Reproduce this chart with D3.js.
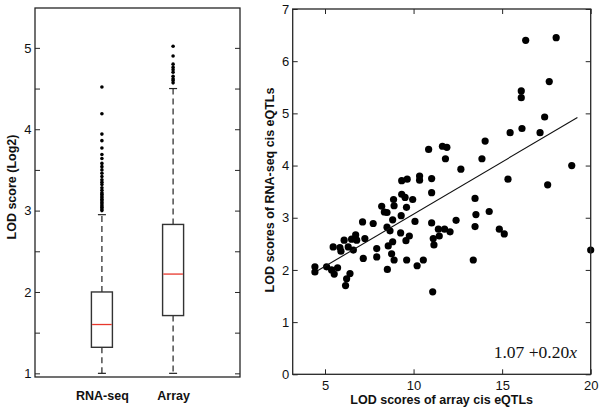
<!DOCTYPE html>
<html>
<head>
<meta charset="utf-8">
<script src="https://cdn.jsdelivr.net/npm/d3@7"></script>
<style>
  html, body { margin: 0; padding: 0; background: #fff; }
  svg { display: block; }
</style>
</head>
<body>
<svg id="chart" width="602" height="410"></svg>
<script>
// ---------- Data ----------
const boxCategories = ["RNA-seq", "Array"];
const boxWhiskerLow = [1.0, 1.0];
const boxQ1 = [1.32, 1.71];
const boxMedian = [1.60, 2.22];
const boxQ3 = [2.0, 2.83];
const boxWhiskerHigh = [2.95, 4.50];
const rnaOutliers = [3.0, 3.02, 3.04, 3.06, 3.08, 3.1, 3.12, 3.14, 3.16, 3.18, 3.2, 3.22, 3.25, 3.28,
  3.32, 3.35, 3.38, 3.42, 3.46, 3.5, 3.54, 3.58, 3.64, 3.69, 3.77, 3.86, 3.94, 4.19, 4.52];
const arrayOutliers = [4.57, 4.6, 4.62, 4.65, 4.7, 4.73, 4.76, 4.8, 4.9, 5.02];
const boxYTicks = [1, 1.5, 2, 2.5, 3, 3.5, 4, 4.5, 5];
const boxYLabels = [1, 2, 3, 4, 5];

const scatterX = [4.43, 4.43, 5.09, 5.37, 5.52, 5.71, 5.46, 5.84, 5.9, 6.08, 6.31, 6.22, 6.16, 6.41, 6.6, 6.5, 6.73, 6.79,
  7.16, 7.12, 7.25, 7.72, 7.92, 7.92,
  8.2, 8.35, 8.5, 8.5, 8.52, 8.57, 8.67, 8.76, 8.82, 8.82, 8.9, 8.87, 8.9,
  9.3, 9.27, 9.57, 9.6, 9.61, 9.76, 10.08, 10.2, 10.55,
  9.33, 9.52, 9.95, 9.33, 9.64, 10.34, 10.34, 11.02, 11.02,
  10.85, 11.63, 11.88, 11.8, 12.67,
  11.02, 11.11, 11.15, 11.08, 11.4, 11.45, 11.75, 12.06, 12.4,
  13.37, 13.47, 13.52, 13.47, 14.27, 14.84, 15.12,
  13.86, 14.04, 15.33, 15.45, 16.12, 16.08, 16.08, 16.33, 17.14, 17.4, 17.57, 17.66, 18.05, 18.93, 20.0];
const scatterY = [2.06, 1.96, 2.06, 2.0, 1.92, 2.04, 2.44, 2.43, 2.36, 2.57, 2.44, 1.83, 1.7, 1.93, 2.38, 2.59, 2.67, 2.57,
  2.22, 2.92, 2.6, 2.89, 2.41, 2.25,
  3.22, 3.11, 3.1, 2.82, 2.01, 2.46, 2.75, 2.31, 2.54, 2.96, 2.19, 3.35, 3.23,
  3.04, 2.71, 2.56, 3.2, 2.19, 2.65, 2.93, 2.08, 2.19,
  3.45, 3.39, 3.35, 3.71, 3.74, 3.8, 3.72, 3.75, 3.48,
  4.31, 4.37, 4.35, 4.13, 3.93,
  2.9, 2.6, 2.48, 1.58, 2.78, 2.65, 2.78, 2.73, 2.95,
  2.19, 2.83, 3.06, 3.37, 3.12, 2.78, 2.69,
  4.13, 4.47, 3.74, 4.63, 4.71, 5.3, 5.43, 6.4, 4.63, 4.93, 3.63, 5.61, 6.45, 4.0, 2.38];
const fitIntercept = 1.07;
const fitSlope = 0.20;
const fitRange = [4.6, 19.25];
const scatterXTicks = [5, 10, 15, 20];
const scatterYTicks = [0, 1, 2, 3, 4, 5, 6, 7];

// ---------- Setup ----------
const svg = d3.select("#chart");
const FRAME = "#262626";
const FONT = "'Liberation Sans', Arial, sans-serif";

// ---------- Left panel: box plot ----------
const L = { x0: 35, x1: 240, y0: 8, y1: 377 };
const ly = d3.scaleLinear().domain([0.955, 5.49]).range([L.y1, L.y0]);
const lx = d3.scalePoint().domain(boxCategories).range([L.x0, L.x1]).padding(0.94);
const boxW = 21, capW = 8;

const gl = svg.append("g");
const yAxisL = d3.axisLeft(ly).tickValues(boxYTicks).tickSizeInner(-5).tickSizeOuter(0)
  .tickFormat(d => boxYLabels.includes(d) ? d3.format("d")(d) : "");
gl.append("g").attr("transform", `translate(${L.x0},0)`).call(yAxisL)
  .call(g => g.select(".domain").remove())
  .call(g => g.selectAll("line").attr("stroke", FRAME).attr("stroke-width", 1))
  .call(g => g.selectAll("text").attr("x", -3.5).attr("font-family", FONT).attr("font-size", 13).attr("fill", "#111"));
gl.append("g").attr("transform", `translate(${L.x1},0)`)
  .call(d3.axisRight(ly).tickValues(boxYTicks).tickSizeInner(-5).tickSizeOuter(0).tickFormat(""))
  .call(g => g.select(".domain").remove())
  .call(g => g.selectAll("line").attr("stroke", FRAME).attr("stroke-width", 1));
gl.append("g").attr("transform", `translate(0,${L.y1})`)
  .call(d3.axisBottom(lx).tickSize(0).tickPadding(14))
  .call(g => g.select(".domain").remove())
  .call(g => g.selectAll("text").attr("font-family", FONT).attr("font-size", 12.5).attr("font-weight", "bold").attr("fill", "#111"));

boxCategories.forEach((c, i) => {
  const cx = lx(c);
  const g = gl.append("g");
  g.append("line").attr("x1", cx).attr("x2", cx).attr("y1", ly(boxQ3[i])).attr("y2", ly(boxWhiskerHigh[i]))
    .attr("stroke", "#222").attr("stroke-width", 1.2).attr("stroke-dasharray", "6,4");
  g.append("line").attr("x1", cx).attr("x2", cx).attr("y1", ly(boxQ1[i])).attr("y2", ly(boxWhiskerLow[i]))
    .attr("stroke", "#222").attr("stroke-width", 1.2).attr("stroke-dasharray", "6,4");
  [boxWhiskerHigh[i], boxWhiskerLow[i]].forEach(v => {
    g.append("line").attr("x1", cx - capW / 2).attr("x2", cx + capW / 2).attr("y1", ly(v)).attr("y2", ly(v))
      .attr("stroke", "#222").attr("stroke-width", 1.2);
  });
  g.append("rect").attr("x", cx - boxW / 2).attr("width", boxW)
    .attr("y", ly(boxQ3[i])).attr("height", ly(boxQ1[i]) - ly(boxQ3[i]))
    .attr("fill", "none").attr("stroke", "#333").attr("stroke-width", 1.4);
  g.append("line").attr("x1", cx - boxW / 2 + 0.7).attr("x2", cx + boxW / 2 - 0.7)
    .attr("y1", ly(boxMedian[i])).attr("y2", ly(boxMedian[i]))
    .attr("stroke", "#e8372c").attr("stroke-width", 1.3);
  const outs = i === 0 ? rnaOutliers : arrayOutliers;
  g.selectAll("circle").data(outs).enter().append("circle")
    .attr("cx", cx).attr("cy", d => ly(d)).attr("r", 1.8).attr("fill", "#000");
});
gl.append("rect").attr("x", L.x0).attr("y", L.y0).attr("width", L.x1 - L.x0).attr("height", L.y1 - L.y0)
  .attr("fill", "none").attr("stroke", FRAME).attr("stroke-width", 1.3);
gl.append("text").attr("transform", `translate(16,187) rotate(-90)`)
  .attr("text-anchor", "middle").attr("font-family", FONT).attr("font-size", 12.5).attr("font-weight", "bold")
  .attr("fill", "#111").text("LOD score (Log2)");

// ---------- Right panel: scatter ----------
const R = { x0: 292.7, x1: 590.7, y0: 9, y1: 374.3 };
const rx = d3.scaleLinear().domain([3.176, 20]).range([R.x0, R.x1]);
const ry = d3.scaleLinear().domain([0, 7]).range([R.y1, R.y0]);
const gr = svg.append("g");

const styleTicks = g => {
  g.select(".domain").remove();
  g.selectAll("line").attr("stroke", FRAME).attr("stroke-width", 1);
  g.selectAll("text").attr("font-family", FONT).attr("font-size", 13).attr("fill", "#111");
};
gr.append("g").attr("transform", `translate(${R.x0},0)`)
  .call(d3.axisLeft(ry).tickValues(scatterYTicks).tickSizeInner(-5).tickSizeOuter(0).tickFormat(d3.format("d")))
  .call(styleTicks).call(g => g.selectAll("text").attr("x", -3.5));
gr.append("g").attr("transform", `translate(${R.x1},0)`)
  .call(d3.axisRight(ry).tickValues(scatterYTicks).tickSizeInner(-5).tickSizeOuter(0).tickFormat(""))
  .call(styleTicks);
gr.append("g").attr("transform", `translate(0,${R.y1})`)
  .call(d3.axisBottom(rx).tickValues(scatterXTicks).tickSizeInner(-5).tickSizeOuter(0).tickFormat(d3.format("d")))
  .call(styleTicks).call(g => g.selectAll("text").attr("y", 6));
gr.append("g").attr("transform", `translate(0,${R.y0})`)
  .call(d3.axisTop(rx).tickValues(scatterXTicks).tickSizeInner(-5).tickSizeOuter(0).tickFormat(""))
  .call(styleTicks);

const pts = scatterX.map((x, i) => ({ x, y: scatterY[i] }));
gr.selectAll("circle.pt").data(pts).enter().append("circle").attr("class", "pt")
  .attr("cx", d => rx(d.x)).attr("cy", d => ry(d.y)).attr("r", 3.6).attr("fill", "#000");

const line = d3.line().x(d => rx(d)).y(d => ry(fitIntercept + fitSlope * d));
gr.append("path").datum(fitRange).attr("d", line).attr("fill", "none").attr("stroke", "#111").attr("stroke-width", 1.1);

gr.append("rect").attr("x", R.x0).attr("y", R.y0).attr("width", R.x1 - R.x0).attr("height", R.y1 - R.y0)
  .attr("fill", "none").attr("stroke", FRAME).attr("stroke-width", 1.3);

gr.append("text").attr("x", (R.x0 + R.x1) / 2).attr("y", 403.5).attr("text-anchor", "middle")
  .attr("font-family", FONT).attr("font-size", 12.5).attr("font-weight", "bold").attr("fill", "#111")
  .text("LOD scores of array cis eQTLs");
gr.append("text").attr("transform", `translate(274,190) rotate(-90)`)
  .attr("text-anchor", "middle").attr("font-family", FONT).attr("font-size", 12.5).attr("font-weight", "bold")
  .attr("fill", "#111").text("LOD scores of RNA-seq cis eQTLs");

const eq = gr.append("text").attr("x", 577).attr("y", 358).attr("text-anchor", "end")
  .attr("font-family", "'Liberation Serif', 'DejaVu Serif', serif").attr("font-size", 17.5).attr("fill", "#111");
eq.append("tspan").text(d3.format(".2f")(fitIntercept) + " +" + d3.format(".2f")(fitSlope));
eq.append("tspan").attr("font-style", "italic").text("x");
</script>
</body>
</html>
